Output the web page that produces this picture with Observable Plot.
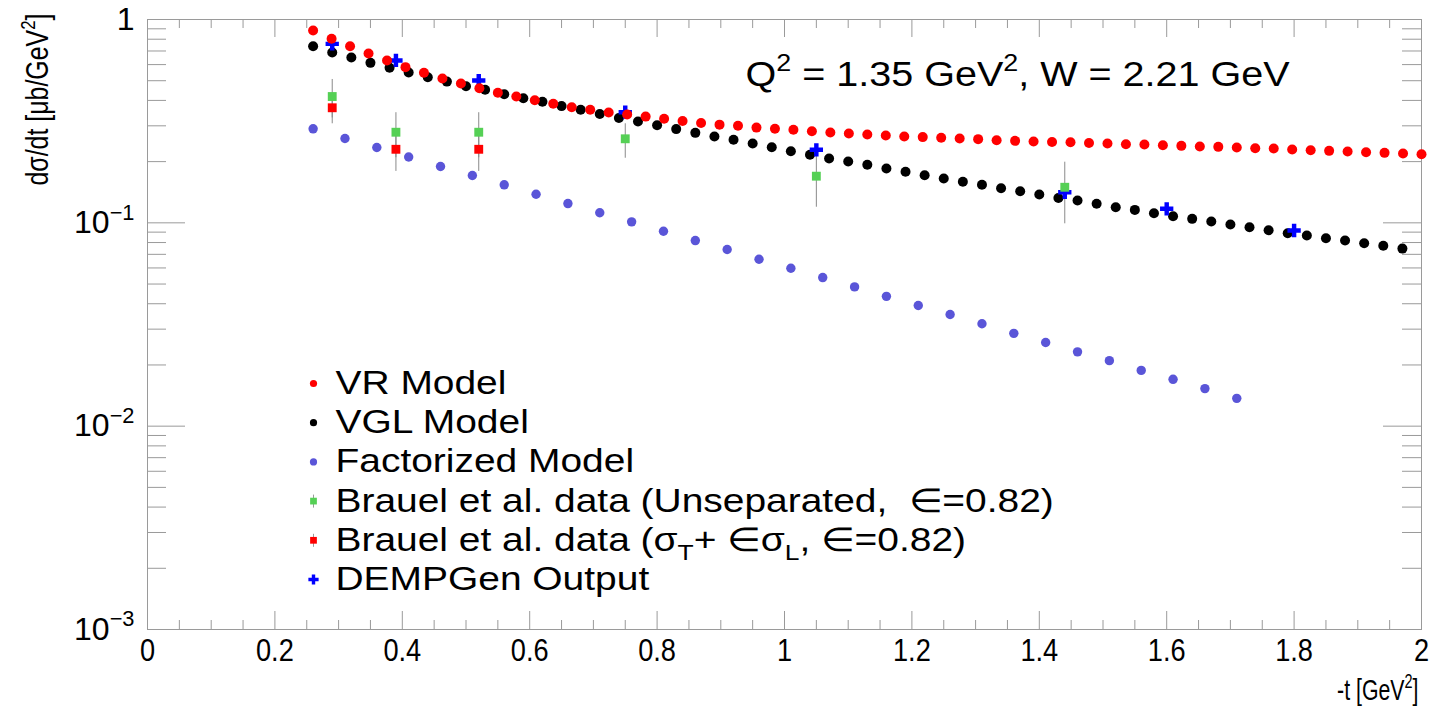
<!DOCTYPE html>
<html><head><meta charset="utf-8">
<script src="https://cdn.jsdelivr.net/npm/d3@7"></script>
<script src="https://cdn.jsdelivr.net/npm/@observablehq/plot@0.6"></script>
<style>body{margin:0;background:#fff;}#chart svg{display:block;}</style>
</head><body><div id="chart"></div>
<script>
// ---------- data ----------
const vrT = [0.26,0.289,0.318,0.347,0.376,0.405,0.434,0.463,0.492,0.521,0.55,0.579,0.608,0.637,0.666,0.695,0.724,0.753,0.782,0.811,0.84,0.869,0.898,0.927,0.956,0.985,1.014,1.043,1.072,1.101,1.13,1.159,1.188,1.217,1.246,1.275,1.304,1.333,1.362,1.391,1.42,1.449,1.478,1.507,1.536,1.565,1.594,1.623,1.652,1.681,1.71,1.739,1.768,1.797,1.826,1.855,1.884,1.913,1.942,1.971,2.0];
const vrV = [0.883,0.804,0.739,0.681,0.629,0.583,0.547,0.513,0.484,0.459,0.436,0.418,0.401,0.385,0.370,0.360,0.349,0.341,0.333,0.325,0.317,0.310,0.304,0.300,0.294,0.290,0.287,0.282,0.278,0.275,0.272,0.269,0.266,0.264,0.262,0.260,0.258,0.255,0.253,0.251,0.250,0.249,0.247,0.2455,0.2435,0.2427,0.2408,0.2391,0.2372,0.2364,0.2346,0.2327,0.2319,0.2293,0.2275,0.2259,0.2241,0.2224,0.2209,0.2192,0.2174];

const vglT = [0.26,0.29,0.32,0.35,0.38,0.41,0.44,0.47,0.50,0.53,0.56,0.59,0.62,0.65,0.68,0.71,0.74,0.77,0.80,0.83,0.86,0.89,0.92,0.95,0.98,1.01,1.04,1.07,1.10,1.13,1.16,1.19,1.22,1.25,1.28,1.31,1.34,1.37,1.40,1.43,1.46,1.49,1.52,1.55,1.58,1.61,1.64,1.67,1.70,1.73,1.76,1.79,1.82,1.85,1.88,1.91,1.94,1.97];
const vglV = [0.739,0.688,0.650,0.612,0.579,0.549,0.520,0.495,0.470,0.451,0.429,0.410,0.394,0.375,0.360,0.343,0.328,0.315,0.302,0.289,0.277,0.266,0.256,0.2455,0.2354,0.2250,0.2160,0.2071,0.2002,0.1929,0.1850,0.1782,0.1715,0.1652,0.1591,0.1538,0.1480,0.1430,0.1378,0.1324,0.1287,0.1240,0.1193,0.1158,0.1114,0.1077,0.1046,0.1015,0.0981,0.0951,0.0920,0.0889,0.0866,0.0840,0.0818,0.0794,0.0771,0.0747];

const factT = [0.26,0.31,0.36,0.41,0.46,0.51,0.56,0.61,0.66,0.71,0.76,0.81,0.86,0.91,0.96,1.01,1.06,1.11,1.16,1.21,1.26,1.31,1.36,1.41,1.46,1.51,1.56,1.61,1.66,1.71];
const factV = [0.290,0.260,0.2346,0.2107,0.1892,0.1709,0.1538,0.1382,0.1244,0.1121,0.1011,0.0909,0.0818,0.0739,0.0662,0.0598,0.0538,0.0484,0.0435,0.0392,0.0354,0.0319,0.0286,0.0258,0.0232,0.0210,0.0188,0.0170,0.0153,0.0137];

const dempT = [0.29,0.39,0.52,0.75,1.05,1.44,1.60,1.80];
const dempV = [0.759,0.629,0.501,0.350,0.2286,0.1414,0.1172,0.0917];

const brauelUT  = [0.29,0.39,0.52,0.75,1.05,1.44];
const brauelUV  = [0.418,0.279,0.279,0.259,0.1696,0.1496];
const brauelULo = [0.328,0.209,0.209,0.2078,0.1193,0.0989];
const brauelUHi = [0.507,0.348,0.348,0.307,0.2224,0.1987];

const brauelST  = [0.29,0.39,0.52];
const brauelSV  = [0.368,0.230,0.230];
const brauelSLo = [0.307,0.179,0.179];
const brauelSHi = [0.430,0.280,0.280];

const xMajor = [0,0.2,0.4,0.6,0.8,1,1.2,1.4,1.6,1.8,2];
const xMinor = [0.05,0.1,0.15,0.25,0.3,0.35,0.45,0.5,0.55,0.65,0.7,0.75,0.85,0.9,0.95,1.05,1.1,1.15,1.25,1.3,1.35,1.45,1.5,1.55,1.65,1.7,1.75,1.85,1.9,1.95];
const yMajor = [0.001,0.01,0.1,1];
const yMinor = [0.002,0.003,0.004,0.005,0.006,0.007,0.008,0.009,0.02,0.03,0.04,0.05,0.06,0.07,0.08,0.09,0.2,0.3,0.4,0.5,0.6,0.7,0.8,0.9];
const yTickLabels = ["10^{−3}","10^{−2}","10^{−1}","1"];

const legendLabels = ["VR Model","VGL Model","Factorized Model","Brauel et al. data (Unseparated,  ∈=0.82)","Brauel et al. data (σ_{T}+ ∈σ_{L}, ∈=0.82)","DEMPGen Output"];
const legendColors = ["#ff0000","#000000","#5a55d8","#55d055","#ff0000","#0000ff"];
const legendSymbols = ["circle","circle","circle","square","square","cross"];
const annotation = "Q^{2} = 1.35 GeV^{2}, W = 2.21 GeV";
const xLabel = "-t [GeV^{2}]";
const yLabel = "dσ/dt [μb/GeV^{2}]";

// ---------- layout ----------
const W = 1434, H = 709, ML = 147, MR = 13, MT = 19, MB = 80;
const FW = W - ML - MR, FH = H - MT - MB;
const GRAY = "#9a9a9a";

const zip = (t, v, lo, hi) => t.map((d, i) => ({t: d, v: v[i], lo: lo ? lo[i] : null, hi: hi ? hi[i] : null}));
const vr = zip(vrT, vrV), vgl = zip(vglT, vglV), fact = zip(factT, factV), demp = zip(dempT, dempV);
const brU = zip(brauelUT, brauelUV, brauelULo, brauelUHi), brS = zip(brauelST, brauelSV, brauelSLo, brauelSHi);

const vline = {draw(ctx, size) { const r = Math.sqrt(size / Math.PI); ctx.moveTo(0, -r); ctx.lineTo(0, r); }};

const legendMarks = [];
legendLabels.forEach((lab, i) => {
  const dy = 383 - MT + 39.2 * i, dx = 313 - ML;
  if (i === 3 || i === 4) legendMarks.push(Plot.dot([i], {frameAnchor: "top-left", dx, dy, symbol: vline, r: 6.5, stroke: GRAY, strokeWidth: 1}));
  const r = legendSymbols[i] === "circle" ? 3.6 : legendSymbols[i] === "square" ? 3.8 : 4.3;
  legendMarks.push(Plot.dot([i], {frameAnchor: "top-left", dx, dy, symbol: legendSymbols[i], r, fill: legendColors[i]}));
  legendMarks.push(Plot.text([lab], {frameAnchor: "top-left", lineAnchor: "middle", dx: 335 - ML, dy, text: d => d, textAnchor: "start", fontSize: 33}));
});

const chart = Plot.plot({
  width: W, height: H, marginLeft: ML, marginRight: MR, marginTop: MT, marginBottom: MB,
  style: {fontFamily: "'Liberation Sans', Arial, sans-serif", background: "#fff", color: "#000"},
  x: {domain: [0, 2]},
  y: {type: "log", domain: [0.001, 1]},
  marks: [
    // tick marks (inside the frame, on all four sides)
    Plot.ruleX(xMajor, {x: d => d, insetTop: FH - 18, stroke: GRAY}),
    Plot.ruleX(xMajor, {x: d => d, insetBottom: FH - 18, stroke: GRAY}),
    Plot.ruleX(xMinor, {x: d => d, insetTop: FH - 9, stroke: GRAY}),
    Plot.ruleX(xMinor, {x: d => d, insetBottom: FH - 9, stroke: GRAY}),
    Plot.ruleY(yMajor, {y: d => d, insetRight: FW - 38, stroke: GRAY}),
    Plot.ruleY(yMajor, {y: d => d, insetLeft: FW - 38, stroke: GRAY}),
    Plot.ruleY(yMinor, {y: d => d, insetRight: FW - 19, stroke: GRAY}),
    Plot.ruleY(yMinor, {y: d => d, insetLeft: FW - 19, stroke: GRAY}),
    Plot.frame({stroke: GRAY}),
    Plot.axisX({ticks: xMajor, tickSize: 0, tickPadding: 9, fontSize: 32, tickFormat: d => String(d), label: null}),
    Plot.axisY({ticks: yMajor, tickSize: 0, tickPadding: 13, fontSize: 32, tickFormat: d => yTickLabels[yMajor.indexOf(d)], label: null}),
    // data
    Plot.dot(vgl, {x: "t", y: "v", r: 5, fill: "#000"}),
    Plot.dot(fact, {x: "t", y: "v", r: 4.7, fill: "#5a55d8"}),
    Plot.ruleX(brU, {x: "t", y1: "lo", y2: "hi", stroke: "#8a8a8a", strokeWidth: 1}),
    Plot.ruleX(brS, {x: "t", y1: "lo", y2: "hi", stroke: "#8a8a8a", strokeWidth: 1}),
    Plot.dot(demp, {x: "t", y: "v", symbol: "cross", r: 5.6, fill: "#0000ff"}),
    Plot.dot(brU, {x: "t", y: "v", symbol: "square", r: 5, fill: "#55d055"}),
    Plot.dot(brS, {x: "t", y: "v", symbol: "square", r: 5, fill: "#ff0000"}),
    Plot.dot(vr, {x: "t", y: "v", r: 5, fill: "#ff0000"}),
    // texts
    Plot.text([annotation], {frameAnchor: "top-left", lineAnchor: "middle", dx: 598, dy: 55, text: d => d, textAnchor: "start", fontSize: 35}),
    Plot.text([xLabel], {frameAnchor: "bottom-right", lineAnchor: "middle", dx: -3, dy: 61, text: d => d, textAnchor: "end", fontSize: 30}),
    Plot.text([yLabel], {frameAnchor: "top-left", lineAnchor: "middle", dx: 38 - ML, dy: -6, rotate: -90, text: d => d, textAnchor: "end", fontSize: 28}),
    ...legendMarks
  ]
});
document.getElementById("chart").appendChild(chart);

// horizontal widths of the lettering, matched to the reference picture
const stretchBy = new Map();
legendLabels.forEach(s => stretchBy.set(s, [1.18, 1]));
stretchBy.set(annotation, [1.13, 1]);
stretchBy.set(xLabel, [0.71, 1]);
stretchBy.set(yLabel, [0.89, 1.1]);   // rotated: along / across the baseline

// rich text: ^{..} superscripts and _{..} subscripts as tspans
const NS = "http://www.w3.org/2000/svg";
function rich(el) {
  const s = el.textContent;
  if (!/[\^_]\{/.test(s)) return;
  const fs = parseFloat(getComputedStyle(el).fontSize);
  const parts = s.split(/([\^_]\{[^}]*\})/).filter(p => p);
  el.textContent = "";
  let shift = 0;
  for (const p of parts) {
    const ts = document.createElementNS(NS, "tspan");
    let target = 0, txt = p, small = false;
    if (p.startsWith("^{")) { target = -0.42 * fs; txt = p.slice(2, -1); small = true; }
    else if (p.startsWith("_{")) { target = 0.27 * fs; txt = p.slice(2, -1); small = true; }
    ts.setAttribute("dy", (target - shift).toFixed(2));
    shift = target;
    if (small) ts.setAttribute("font-size", (0.68 * fs).toFixed(1));
    ts.textContent = txt;
    el.appendChild(ts);
  }
}
function addScale(el, kx, ky) {
  const x = +(el.getAttribute("x") || 0), y = +(el.getAttribute("y") || 0);
  const t = el.getAttribute("transform") || "";
  const sc = (x || y) ? `translate(${x},${y}) scale(${kx},${ky}) translate(${-x},${-y})` : `scale(${kx},${ky})`;
  el.setAttribute("transform", (t + " " + sc).trim());
}
chart.querySelectorAll("text").forEach(el => {
  const raw = el.textContent;
  const g = el.closest("g");
  const lab = g ? (g.getAttribute("aria-label") || "") : "";
  if (stretchBy.has(raw)) { const [kx, ky] = stretchBy.get(raw); addScale(el, kx, ky); }
  else if (lab.startsWith("x-axis")) addScale(el, 0.85, 1);
  rich(el);
  el.style.whiteSpace = "pre";
});
</script>
</body></html>
